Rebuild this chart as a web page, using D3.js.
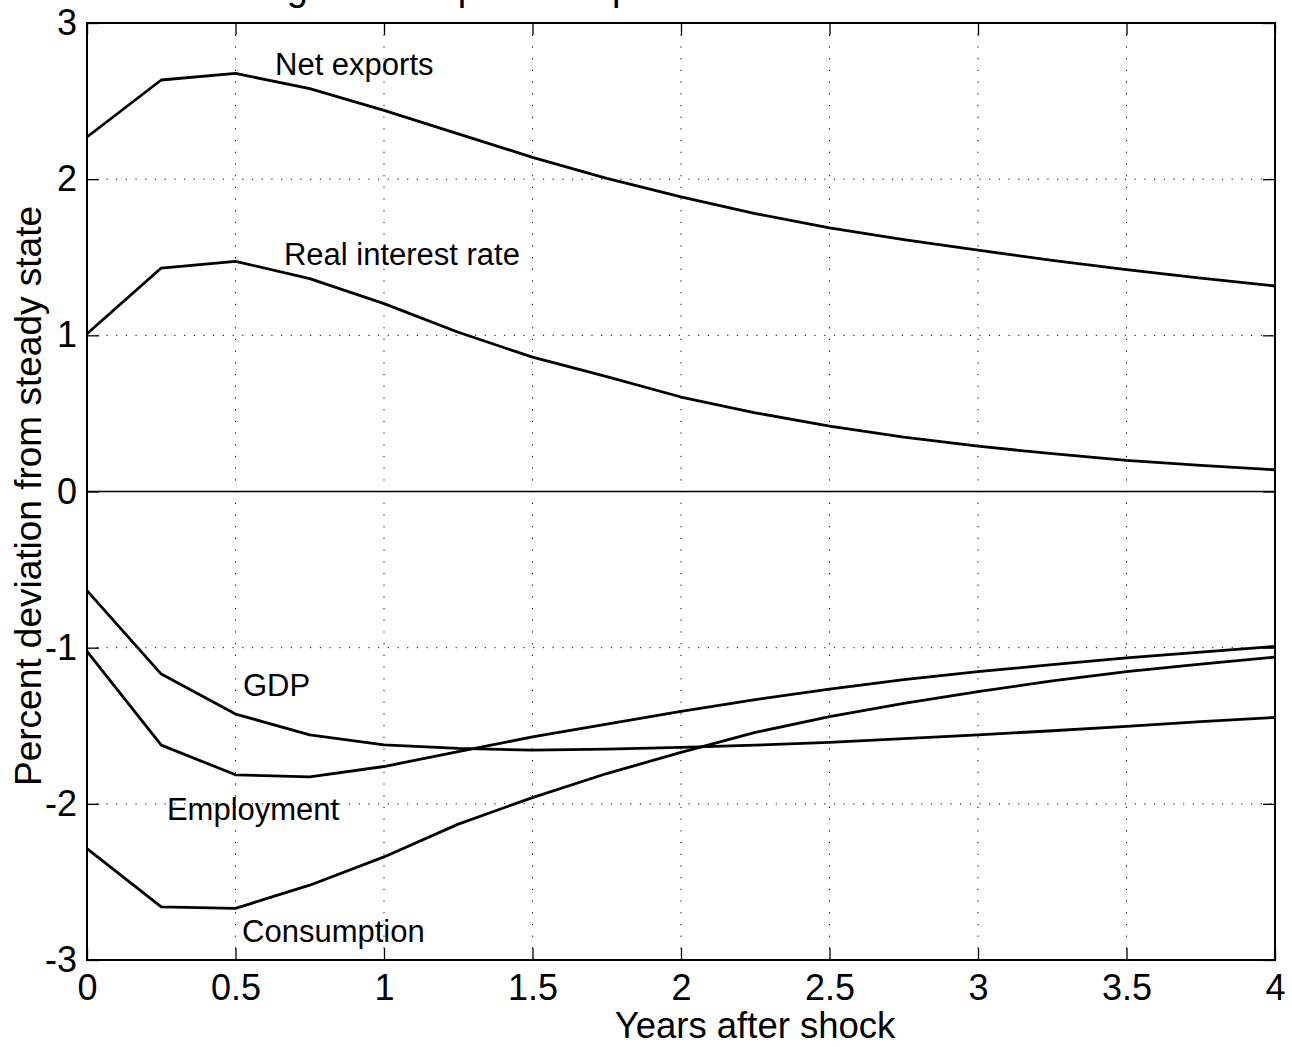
<!DOCTYPE html>
<html>
<head>
<meta charset="utf-8">
<script src="https://cdn.jsdelivr.net/npm/d3@7"></script>
<style>
    body { margin: 0; background: #fff; }
    svg { display: block; font-family: Arial, "Liberation Sans", Helvetica, sans-serif; }
</style>
</head>
<body>
<div id="grafico"></div>
<script>
// quarterly horizon, years after the shock
var years = [0, 0.25, 0.5, 0.75, 1, 1.25, 1.5, 1.75, 2, 2.25, 2.5, 2.75, 3, 3.25, 3.5, 3.75, 4];

var netExports = [2.27, 2.635, 2.677, 2.58, 2.44, 2.29, 2.14, 2.005, 1.887, 1.78, 1.688, 1.613, 1.545, 1.48, 1.421, 1.367, 1.316];
var realRate = [1.01, 1.431, 1.474, 1.363, 1.203, 1.02, 0.86, 0.735, 0.605, 0.504, 0.419, 0.348, 0.29, 0.242, 0.199, 0.167, 0.139];
var gdp = [-0.635, -1.169, -1.425, -1.558, -1.622, -1.645, -1.656, -1.65, -1.639, -1.624, -1.607, -1.583, -1.558, -1.532, -1.504, -1.474, -1.447];
var employment = [-1.024, -1.624, -1.814, -1.827, -1.761, -1.665, -1.572, -1.49, -1.408, -1.333, -1.265, -1.205, -1.154, -1.109, -1.066, -1.028, -0.992];
var consumption = [-2.287, -2.66, -2.669, -2.521, -2.34, -2.13, -1.96, -1.806, -1.671, -1.543, -1.442, -1.357, -1.282, -1.212, -1.154, -1.105, -1.06];

var xTicks = [0, 0.5, 1, 1.5, 2, 2.5, 3, 3.5, 4];
var yTicks = [-3, -2, -1, 0, 1, 2, 3];

var seriesNames = ["Net exports", "Real interest rate", "GDP", "Employment", "Consumption"];
// where each name sits, in data units (year, percent)
var labelYears = [0.633, 0.663, 0.525, 0.269, 0.522];
var labelValues = [2.667, 1.449, -1.308, -2.103, -2.885];

var m = {top: 23, right: 17, bottom: 87, left: 87}
    , W = 1292, H = 1047
    , w = W - m.left - m.right
    , h = H - m.top - m.bottom;

var svg = d3.select("#grafico").append("svg")
    .attr("width", W)
    .attr("height", H);

var g = svg.append("g")
    .attr("transform", "translate(" + m.left + "," + m.top + ")");

var x = d3.scaleLinear().domain([0, 4]).range([0, w]);
var y = d3.scaleLinear().domain([-3, 3]).range([h, 0]);

// plain hyphen minus, like the original
var fmt = function(d) { return String(d); };

// dotted grid
g.selectAll(".vgrid")
    .data(xTicks.slice(1, -1))
    .enter().append("line")
    .attr("x1", function(d) { return x(d); })
    .attr("x2", function(d) { return x(d); })
    .attr("y1", 0)
    .attr("y2", h)
    .attr("stroke", "#000")
    .attr("stroke-width", 1)
    .attr("stroke-dasharray", "1.2,10.5");

g.selectAll(".hgrid")
    .data(yTicks.filter(function(d) { return d != 0 && d != -3 && d != 3; }))
    .enter().append("line")
    .attr("x1", 0)
    .attr("x2", w)
    .attr("y1", function(d) { return y(d); })
    .attr("y2", function(d) { return y(d); })
    .attr("stroke", "#000")
    .attr("stroke-width", 1)
    .attr("stroke-dasharray", "1.2,8.5");

// zero line
g.append("line")
    .attr("x1", 0).attr("x2", w)
    .attr("y1", y(0)).attr("y2", y(0))
    .attr("stroke", "#000")
    .attr("stroke-width", 1.3);

// axes, ticks inside on all four sides
var tl = 12;
g.append("g")
    .attr("transform", "translate(0," + h + ")")
    .call(d3.axisBottom(x).tickValues(xTicks).tickSize(-tl).tickPadding(14).tickFormat(fmt))
    .call(styleAxis);

g.append("g")
    .call(d3.axisTop(x).tickValues(xTicks).tickSize(-tl).tickFormat(""))
    .call(styleAxis);

g.append("g")
    .call(d3.axisLeft(y).tickValues(yTicks).tickSize(-tl).tickPadding(10).tickFormat(fmt))
    .call(styleAxis);

g.append("g")
    .attr("transform", "translate(" + w + ",0)")
    .call(d3.axisRight(y).tickValues(yTicks).tickSize(-tl).tickFormat(""))
    .call(styleAxis);

function styleAxis(sel) {
    sel.select(".domain").remove();
    sel.selectAll("line").attr("stroke", "#000").attr("stroke-width", 1.3);
    sel.selectAll("text")
        .attr("fill", "#000")
        .style("font-size", "36px")
        .style("font-family", "Arial, 'Liberation Sans', Helvetica, sans-serif");
}

// box
g.append("rect")
    .attr("width", w)
    .attr("height", h)
    .attr("fill", "none")
    .attr("stroke", "#000")
    .attr("stroke-width", 2);

// curves
var line = d3.line()
    .x(function(d, i) { return x(years[i]); })
    .y(function(d) { return y(d); });

var series = [netExports, realRate, gdp, employment, consumption];

g.selectAll(".curve")
    .data(series)
    .enter().append("path")
    .attr("class", "curve")
    .attr("d", line)
    .attr("fill", "none")
    .attr("stroke", "#000")
    .attr("stroke-width", 2.8)
    .attr("stroke-linejoin", "round");

g.selectAll(".lbl")
    .data(seriesNames)
    .enter().append("text")
    .attr("class", "lbl")
    .attr("x", function(d, i) { return x(labelYears[i]); })
    .attr("y", function(d, i) { return y(labelValues[i]); })
    .style("font-size", "31px")
    .text(function(d) { return d; });

// title, cut off above the page: only its descenders show
svg.append("text")
    .attr("x", 255)
    .attr("y", 0)
    .style("font-size", "38px")
    .text("Figure 1: Impulse responses to a shock");

// axis labels
svg.append("text")
    .attr("x", 755)
    .attr("y", 1038)
    .style("text-anchor", "middle")
    .style("font-size", "36.5px")
    .text("Years after shock");

svg.append("text")
    .attr("transform", "translate(41," + 496 + ") rotate(-90)")
    .style("text-anchor", "middle")
    .style("font-size", "37px")
    .text("Percent deviation from steady state");
</script>
</body>
</html>
